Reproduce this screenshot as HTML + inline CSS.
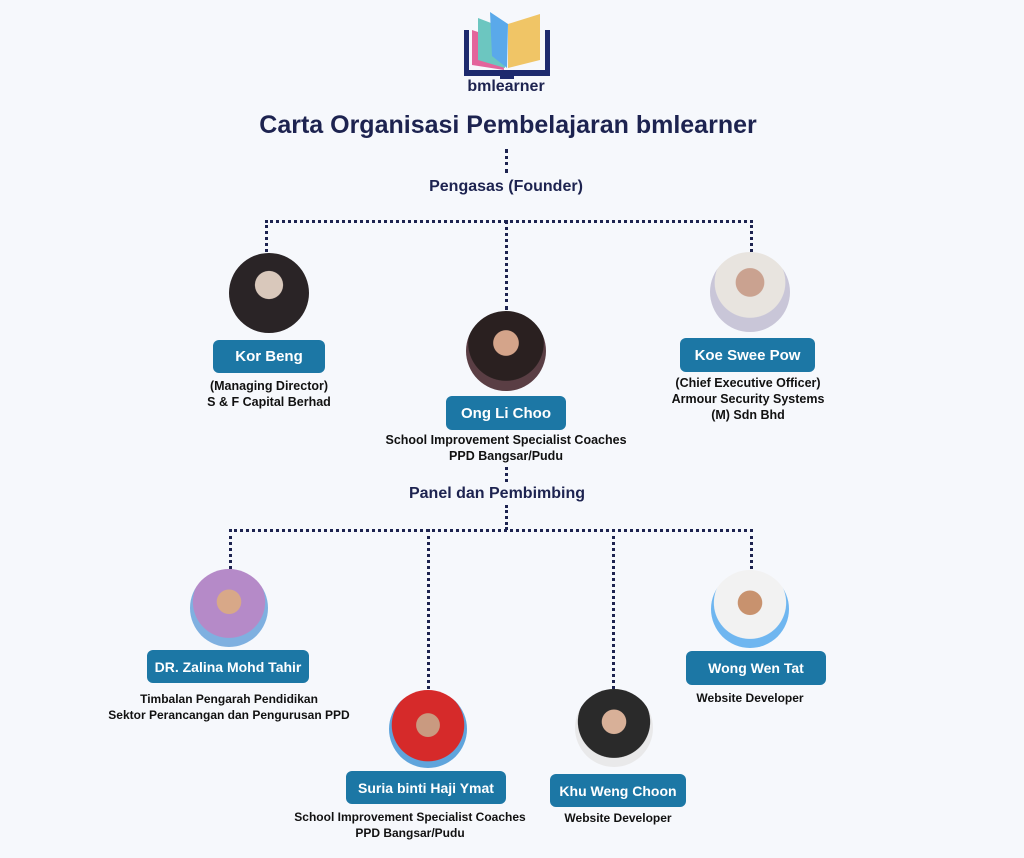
<!DOCTYPE html>
<html><head><meta charset="utf-8"><style>
body{margin:0;width:1024px;height:858px;background:#f6f8fc;position:relative;overflow:hidden;font-family:"Liberation Sans",sans-serif;color:#111;}
.a{position:absolute}
.v{position:absolute;width:0;border-left:3px dotted #1d2350}
.h{position:absolute;height:0;border-top:3px dotted #1d2350}
.ph{position:absolute;border-radius:50%;overflow:hidden}
.lb{position:absolute;background:#1c77a5;color:#fff;font-weight:bold;font-size:15px;border-radius:6px;text-align:center;display:flex;align-items:center;justify-content:center}
.t{position:absolute;font-size:12.5px;font-weight:bold;text-align:center;line-height:16px;white-space:nowrap;transform:translateX(-50%)}
.hd{position:absolute;font-weight:bold;color:#1d2350;transform:translateX(-50%);white-space:nowrap}
</style></head><body>
<svg class="a" style="left:462px;top:10px" width="90" height="70" viewBox="0 0 90 70">
<rect x="2" y="20" width="5" height="45" fill="#1d2a6e"/><rect x="83" y="20" width="5" height="45" fill="#1d2a6e"/>
<rect x="2" y="60" width="86" height="6" fill="#1d2a6e"/><rect x="38" y="64" width="14" height="5" fill="#1d2a6e"/>
<path d="M10 20 L10 55 L42 60 L40 30 Z" fill="#e3649b"/>
<path d="M16 8 L16 50 L43 58 L42 18 Z" fill="#6cc6c0"/>
<path d="M28 2 L30 46 L45 58 L46 14 Z" fill="#5aa9ea"/>
<path d="M46 14 L46 58 L78 50 L78 4 Z" fill="#f0c566"/>
</svg>
<div class="hd" style="left:506px;top:78px;font-size:16px">bmlearner</div>
<div class="hd" style="left:508px;top:111px;font-size:25px">Carta Organisasi Pembelajaran bmlearner</div>
<div class="v" style="left:505px;top:149px;height:24px"></div>
<div class="hd" style="left:506px;top:178px;font-size:16px">Pengasas (Founder)</div>
<div class="h" style="left:265px;top:220px;width:488px"></div>
<div class="v" style="left:265px;top:220px;height:32px"></div>
<div class="v" style="left:505px;top:220px;height:90px"></div>
<div class="v" style="left:750px;top:220px;height:32px"></div>

<div class="ph" style="left:229px;top:253px;width:80px;height:80px;background:radial-gradient(circle at 50% 40%,#d9c8bb 0 22%,#2a2426 23% 100%)"></div>
<div class="lb" style="left:213px;top:340px;width:112px;height:33px">Kor Beng</div>
<div class="t" style="left:269px;top:378px">(Managing Director)<br>S &amp; F Capital Berhad</div>

<div class="ph" style="left:466px;top:311px;width:80px;height:80px;background:radial-gradient(circle at 50% 40%,#d4a48a 0 20%,#2a2020 21% 60%,#5a3e44 61%)"></div>
<div class="lb" style="left:446px;top:396px;width:120px;height:34px">Ong Li Choo</div>
<div class="t" style="left:506px;top:432px">School Improvement Specialist Coaches<br>PPD Bangsar/Pudu</div>

<div class="ph" style="left:710px;top:252px;width:80px;height:80px;background:radial-gradient(circle at 50% 38%,#caa290 0 22%,#e8e4df 23% 55%,#c9c6d8 56%)"></div>
<div class="lb" style="left:680px;top:338px;width:135px;height:34px">Koe Swee Pow</div>
<div class="t" style="left:748px;top:375px">(Chief Executive Officer)<br>Armour Security Systems<br>(M) Sdn Bhd</div>

<div class="v" style="left:505px;top:467px;height:15px"></div>
<div class="hd" style="left:497px;top:485px;font-size:16px">Panel dan Pembimbing</div>
<div class="v" style="left:505px;top:505px;height:25px"></div>
<div class="h" style="left:229px;top:529px;width:524px"></div>
<div class="v" style="left:229px;top:529px;height:40px"></div>
<div class="v" style="left:427px;top:529px;height:160px"></div>
<div class="v" style="left:612px;top:529px;height:160px"></div>
<div class="v" style="left:750px;top:529px;height:40px"></div>

<div class="ph" style="left:190px;top:569px;width:78px;height:78px;background:radial-gradient(circle at 50% 42%,#d8a888 0 20%,#b58ac8 21% 60%,#7fb0e0 61%)"></div>
<div class="lb" style="left:147px;top:650px;width:162px;height:33px;font-size:14px">DR. Zalina Mohd Tahir</div>
<div class="t" style="left:229px;top:691px;font-size:12px">Timbalan Pengarah Pendidikan<br>Sektor Perancangan dan Pengurusan PPD</div>

<div class="ph" style="left:389px;top:690px;width:78px;height:78px;background:radial-gradient(circle at 50% 45%,#c99a80 0 20%,#d62a2a 21% 62%,#5fa4dc 63%)"></div>
<div class="lb" style="left:346px;top:771px;width:160px;height:33px;font-size:14px">Suria binti Haji Ymat</div>
<div class="t" style="left:410px;top:809px;font-size:12px">School Improvement Specialist Coaches<br>PPD Bangsar/Pudu</div>

<div class="ph" style="left:575px;top:689px;width:78px;height:78px;background:radial-gradient(circle at 50% 42%,#d8b098 0 20%,#2a2a2a 21% 60%,#e9e9ea 61%)"></div>
<div class="lb" style="left:550px;top:774px;width:136px;height:33px;font-size:14px">Khu Weng Choon</div>
<div class="t" style="left:618px;top:810px;font-size:12px">Website Developer</div>

<div class="ph" style="left:711px;top:570px;width:78px;height:78px;background:radial-gradient(circle at 50% 42%,#c8926e 0 20%,#f2f2f2 21% 60%,#6fb6f0 61%)"></div>
<div class="lb" style="left:686px;top:651px;width:140px;height:34px;font-size:14px">Wong Wen Tat</div>
<div class="t" style="left:750px;top:690px;font-size:12px">Website Developer</div>
</body></html>
